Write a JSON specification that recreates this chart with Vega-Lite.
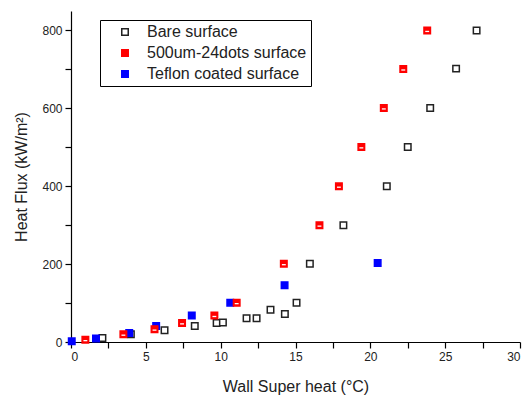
{
  "$schema": "https://vega.github.io/schema/vega-lite/v6.json",
  "width": 449,
  "height": 331,
  "autosize": {"type": "none"},
  "padding": {"left": 71, "top": 11, "right": 7, "bottom": 57},
  "background": "white",
  "config": {
    "view": {"stroke": null},
    "font": "Liberation Sans",
    "axis": {
      "grid": false,
      "domainColor": "black",
      "domainWidth": 1.2,
      "tickColor": "black",
      "tickWidth": 1.2,
      "labelColor": "#222",
      "labelFontSize": 12,
      "labelFont": "Liberation Sans",
      "titleFont": "Liberation Sans",
      "titleFontSize": 16,
      "titleFontWeight": "normal",
      "titleColor": "#222"
    }
  },
  "data": {
    "values": [
      {"series": "Bare surface", "x": 2.1, "y": 10},
      {"series": "Bare surface", "x": 4.0, "y": 20},
      {"series": "Bare surface", "x": 6.25, "y": 30},
      {"series": "Bare surface", "x": 8.27, "y": 41},
      {"series": "Bare surface", "x": 9.73, "y": 49},
      {"series": "Bare surface", "x": 10.15, "y": 50},
      {"series": "Bare surface", "x": 11.73, "y": 61},
      {"series": "Bare surface", "x": 12.4, "y": 61},
      {"series": "Bare surface", "x": 13.33, "y": 83},
      {"series": "Bare surface", "x": 14.29, "y": 72},
      {"series": "Bare surface", "x": 15.07, "y": 101},
      {"series": "Bare surface", "x": 15.96, "y": 201},
      {"series": "Bare surface", "x": 18.2, "y": 300},
      {"series": "Bare surface", "x": 21.1, "y": 400},
      {"series": "Bare surface", "x": 22.5, "y": 501},
      {"series": "Bare surface", "x": 24.0, "y": 601},
      {"series": "Bare surface", "x": 25.73, "y": 702},
      {"series": "Bare surface", "x": 27.1, "y": 800},
      {"series": "Teflon coated surface", "x": 0.05, "y": 2},
      {"series": "Teflon coated surface", "x": 1.67, "y": 9},
      {"series": "Teflon coated surface", "x": 3.89, "y": 23},
      {"series": "Teflon coated surface", "x": 5.69, "y": 41},
      {"series": "Teflon coated surface", "x": 8.07, "y": 68},
      {"series": "Teflon coated surface", "x": 10.64, "y": 101},
      {"series": "Teflon coated surface", "x": 14.27, "y": 146},
      {"series": "Teflon coated surface", "x": 20.49, "y": 203},
      {"series": "500um-24dots surface", "x": 0.96, "y": 6},
      {"series": "500um-24dots surface", "x": 3.5, "y": 20},
      {"series": "500um-24dots surface", "x": 5.58, "y": 33},
      {"series": "500um-24dots surface", "x": 7.42, "y": 49},
      {"series": "500um-24dots surface", "x": 9.58, "y": 68},
      {"series": "500um-24dots surface", "x": 11.07, "y": 101},
      {"series": "500um-24dots surface", "x": 14.22, "y": 201},
      {"series": "500um-24dots surface", "x": 16.6, "y": 300},
      {"series": "500um-24dots surface", "x": 17.9, "y": 400},
      {"series": "500um-24dots surface", "x": 19.4, "y": 501},
      {"series": "500um-24dots surface", "x": 20.9, "y": 601},
      {"series": "500um-24dots surface", "x": 22.2, "y": 701},
      {"series": "500um-24dots surface", "x": 23.8, "y": 800}
    ]
  },
  "encoding": {
    "x": {
      "field": "x",
      "type": "quantitative",
      "scale": {"domain": [0, 30], "nice": false, "zero": false},
      "axis": {
        "title": "Wall Super heat (°C)",
        "values": [0, 2.5, 5, 7.5, 10, 12.5, 15, 17.5, 20, 22.5, 25, 27.5, 30],
        "labelExpr": "datum.value % 5 === 0 ? datum.label : ''",
        "tickSize": 6,
        "labelPadding": 3,
        "titlePadding": 16,
        "encode": {"ticks": {"update": {"y2": {"signal": "datum.value % 5 === 0 ? 6 : 3"}}}}
      }
    },
    "y": {
      "field": "y",
      "type": "quantitative",
      "scale": {"domain": [0, 850], "nice": false, "zero": false},
      "axis": {
        "title": "Heat Flux (kW/m²)",
        "values": [0, 100, 200, 300, 400, 500, 600, 700, 800],
        "labelExpr": "datum.value % 200 === 0 ? datum.label : ''",
        "tickSize": 6,
        "labelPadding": 3,
        "titlePadding": 12,
        "encode": {"ticks": {"update": {"x2": {"signal": "datum.value % 200 === 0 ? -6 : -3"}}}}
      }
    }
  },
  "layer": [
    {
      "mark": {"type": "point", "shape": "square", "size": 42, "strokeWidth": 1.5, "opacity": 1, "filled": false},
      "encoding": {
        "fill": {
          "field": "series",
          "type": "nominal",
          "scale": {
            "domain": ["Bare surface", "500um-24dots surface", "Teflon coated surface"],
            "range": ["white", "#ff0000", "#0000ff"]
          },
          "legend": {
            "title": null,
            "orient": "none",
            "legendX": 29,
            "legendY": 9,
            "strokeColor": "black",
            "padding": 4,
            "symbolType": "square",
            "symbolSize": 42,
            "symbolStrokeWidth": 1.5,
            "symbolOffset": 13,
            "labelOffset": 14,
            "labelFontSize": 16,
            "labelFont": "Liberation Sans",
            "labelColor": "#222",
            "rowPadding": 5,
            "labelLimit": 400,
            "labelExpr": "datum.label + '\u00a0\u00a0\u00a0\u00a0'"
          }
        },
        "stroke": {
          "field": "series",
          "type": "nominal",
          "scale": {
            "domain": ["Bare surface", "500um-24dots surface", "Teflon coated surface"],
            "range": ["#222222", "#ff0000", "#0000ff"]
          }
        }
      }
    },
    {
      "transform": [{"filter": "datum.series === '500um-24dots surface'"}],
      "mark": {
        "type": "point",
        "shape": "M-0.6,0.1H0.6V0.5H-0.6Z",
        "size": 42,
        "filled": true,
        "fill": "white",
        "strokeWidth": 0,
        "opacity": 1
      },
      "encoding": {}
    }
  ]
}
